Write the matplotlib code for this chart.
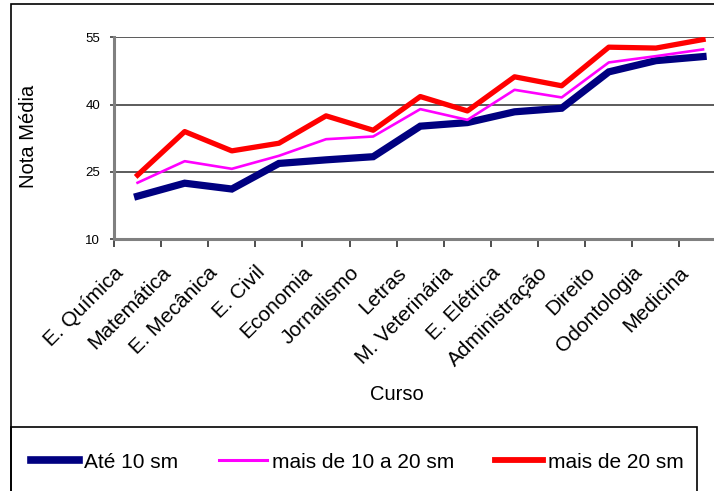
import matplotlib
matplotlib.use("Agg")
import matplotlib.pyplot as plt
import matplotlib.transforms as mtransforms
from matplotlib.patches import Rectangle
from matplotlib.lines import Line2D

plt.rcParams['font.family'] = ['Liberation Sans', 'DejaVu Sans']

cursos = ["E. Química", "Matemática", "E. Mecânica", "E. Civil", "Economia",
          "Jornalismo", "Letras", "M. Veterinária", "E. Elétrica", "Administração",
          "Direito", "Odontologia", "Medicina"]
ate10 = [19.6, 22.5, 21.2, 26.9, 27.7, 28.4, 35.2, 36.0, 38.4, 39.2, 47.3, 49.8, 50.7]
de10a20 = [22.6, 27.4, 25.7, 28.6, 32.3, 32.9, 39.0, 36.6, 43.3, 41.6, 49.4, 50.8, 52.3]
mais20 = [24.3, 34.0, 29.7, 31.4, 37.5, 34.3, 41.8, 38.6, 46.2, 44.2, 52.8, 52.6, 54.5]
series_names = ["Até 10 sm", "mais de 10 a 20 sm", "mais de 20 sm"]
yticks = [10, 25, 40, 55]

W, H = 714, 491
fig = plt.figure(figsize=(W / 100, H / 100), dpi=100)

def fx(px):
    return px / W

def fy(py):
    return 1 - py / H

# outer chart frame and legend box
fig.patches.append(Rectangle((fx(11), fy(900)), fx(900), fy(4) - fy(900),
                             transform=fig.transFigure, fill=False,
                             edgecolor='black', lw=1.2, zorder=0))
fig.patches.append(Rectangle((fx(11), fy(900)), fx(697) - fx(11), fy(427) - fy(900),
                             transform=fig.transFigure, fill=False,
                             edgecolor='black', lw=1.2, zorder=0))

left, right, top, bottom = 114, 726.6, 37.3, 239.3
ax = fig.add_axes([fx(left), fy(bottom), fx(right) - fx(left), fy(top) - fy(bottom)])
ax.set_facecolor('none')

x = list(range(len(cursos)))
ax.plot(x, ate10, color='#000080', lw=5.2, solid_joinstyle='miter', zorder=3)
ax.plot(x, de10a20, color='#FF00FF', lw=1.9, zorder=4)
ax.plot(x, mais20, color='#FF0000', lw=3.8, zorder=5)

ax.set_xlim(-0.5, len(cursos) - 0.5)
ax.set_ylim(10, 55)
ax.set_yticks(yticks)
ax.set_yticklabels([str(v) for v in yticks], fontsize=9.5)
ax.yaxis.grid(True, color='#404040', lw=1.2)
ax.set_axisbelow(True)

for s in ['top', 'right']:
    ax.spines[s].set_visible(False)
for s in ['left', 'bottom']:
    ax.spines[s].set_color('#808080')
    ax.spines[s].set_linewidth(2.2)

ax.tick_params(axis='y', length=3, width=1.2, color='#404040', pad=7)
ax.set_xticks(x)
ax.set_xticklabels(cursos, fontsize=15, rotation=45, ha='right', va='top')
ax.tick_params(axis='x', which='major', length=0, pad=17)
ax.set_xticks([i - 0.5 for i in range(len(cursos) + 1)], minor=True)
ax.tick_params(axis='x', which='minor', length=5.5, width=1.2, color='#303030')

offset = mtransforms.ScaledTranslation(-10.5 / 100, 0, fig.dpi_scale_trans)
for lab in ax.get_xticklabels():
    lab.set_transform(lab.get_transform() + offset)

fig.text(fx(28), fy(136), "Nota Média", rotation=90, fontsize=14.5,
         ha='center', va='center')
fig.text(fx(397), fy(394), "Curso", fontsize=14.5, ha='center', va='center')

handles = [Line2D([], [], color='#000080', lw=5.5),
           Line2D([], [], color='#FF00FF', lw=2.2),
           Line2D([], [], color='#FF0000', lw=4.2)]
fig.legend(handles, series_names, loc='center left',
           bbox_to_anchor=(fx(31), fy(462)), ncol=3, frameon=False,
           fontsize=15, handlelength=2.3, handletextpad=0.25,
           columnspacing=1.95, borderpad=0, borderaxespad=0)

fig.savefig("out.png", dpi=100)
